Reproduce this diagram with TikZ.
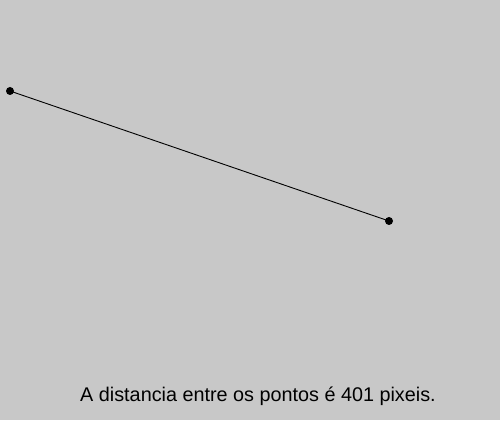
\documentclass[tikz,border=0pt]{standalone}
\usepackage{fontspec}
\setmainfont{Liberation Sans}
\definecolor{bg}{RGB}{200,200,200}
\begin{document}
\begin{tikzpicture}[x=1pt,y=1pt,
  pt/.style={circle,fill=black,inner sep=0pt,minimum size=8pt},
  lbl/.style={anchor=base,inner sep=0pt,font=\fontsize{19.8}{22}\selectfont}]
\fill[bg] (0,0) rectangle (500,420);
\useasboundingbox (0,0) rectangle (500,420);
\node[pt] (a) at (10,329) {};
\node[pt] (b) at (389,199) {};
\draw[line width=0.9pt] (a.center) -- (b.center);
\node[lbl] (t) at (258,18.5) {A distancia entre os pontos é 401 pixeis.};
\end{tikzpicture}
\end{document}
